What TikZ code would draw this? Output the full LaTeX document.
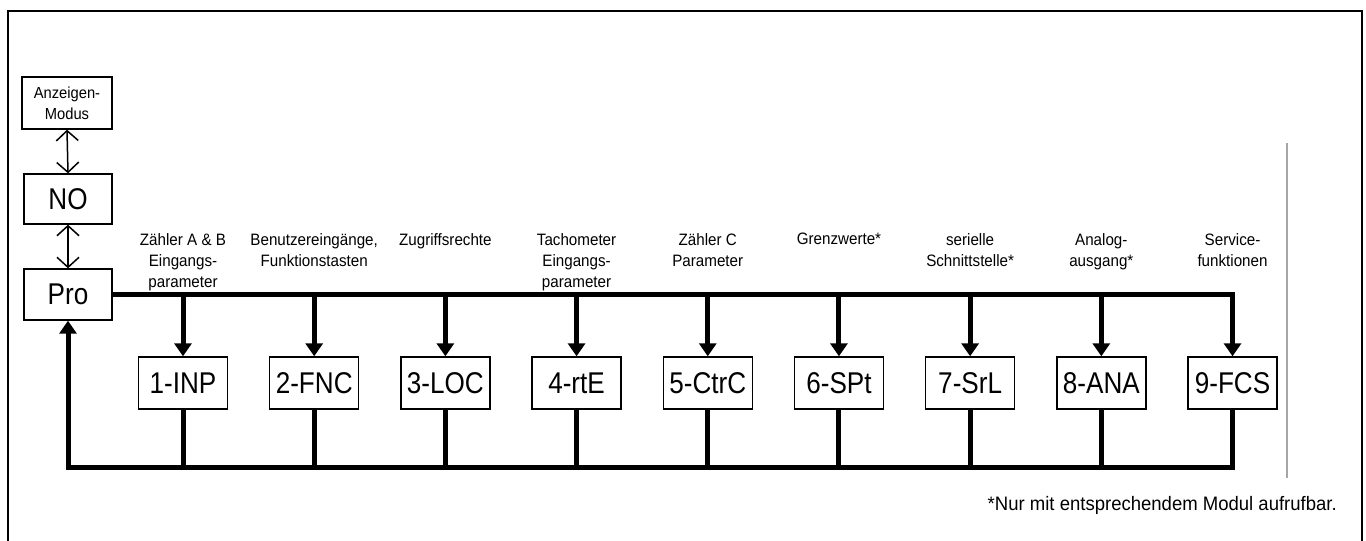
\documentclass[tikz,border=0pt]{standalone}
\usepackage{fontspec}
\setmainfont{Liberation Sans}
\newfontfamily\boxfont[FakeStretch=0.87]{Liberation Sans}
\newfontfamily\lblfont[FakeStretch=0.92]{Liberation Sans}
\newfontfamily\notefont[FakeStretch=0.95]{Liberation Sans}
\usetikzlibrary{arrows.meta}
\begin{document}
\begin{tikzpicture}[x=1pt,y=-1pt,
  box/.style={draw, line width=1.4pt, minimum width=89pt, minimum height=52pt, inner sep=0pt, font=\boxfont\fontsize{30}{34}\selectfont},
  lbl/.style={anchor=north, align=center, inner sep=0pt, font=\lblfont\fontsize{16.5}{21}\selectfont},
  bus/.style={line width=5pt},
  busarrow/.style={line width=5pt, line join=miter, -{Triangle[length=13pt,width=17pt]}},
  dbl/.style={line width=1.5pt, {Straight Barb[length=10pt,width=22pt]}-{Straight Barb[length=10pt,width=22pt]}}]
\useasboundingbox (0,0) rectangle (1366,541);
\fill[white] (0,0) rectangle (1366,541);
\draw[line width=1.5pt] (8,541) -- (8,11) -- (1362,11) -- (1362,541);
\draw[gray!70, line width=1.5pt] (1287,143) -- (1287,478);

\node[box, minimum width=90pt, font=\lblfont\fontsize{16}{21}\selectfont, align=center] (anz) at (67,103) {Anzeigen-\\Modus};
\node[box, minimum width=88pt, minimum height=50pt] (no) at (68,199) {NO};
\node[box, minimum width=88pt, minimum height=51pt] (pro) at (68,294.5) {Pro};

\foreach \i/\t in {1/1-INP,2/2-FNC,3/3-LOC,4/4-rtE,5/5-CtrC,6/6-SPt,7/7-SrL,8/8-ANA,9/9-FCS}{
  \pgfmathsetmacro{\xx}{183+131.19*(\i-1)}
  \node[box] (m\i) at (\xx,383) {\t};
}

\draw[dbl] (anz.south) -- (no.north);
\draw[dbl] (no.south) -- (pro.north);

\draw[busarrow] (pro.east) -- (pro.east -| m9.north) -- (m9.north);
\foreach \i in {1,...,8}{
  \draw[busarrow] (pro.east -| m\i.north) -- (m\i.north);
}
\coordinate (bl) at (68,467);
\foreach \i in {1,...,8}{
  \draw[bus] (m\i.south) -- (m\i.south |- bl);
}
\draw[busarrow] (m9.south) |- (bl) -- (pro.south);

\node[lbl] (l1) at (m1 |- 0,233) {Zähler A \& B\\Eingangs-\\parameter};
\node[lbl] (l2) at (m2 |- 0,233) {Benutzereingänge,\\Funktionstasten};
\node[lbl] (l3) at (m3 |- 0,233) {Zugriffsrechte};
\node[lbl] (l4) at (m4 |- 0,233) {Tachometer\\Eingangs-\\parameter};
\node[lbl] (l5) at (m5 |- 0,233) {Zähler C\\Parameter};
\node[lbl] (l6) at (m6 |- 0,233) {Grenzwerte*};
\node[lbl] (l7) at (m7 |- 0,233) {serielle\\Schnittstelle*};
\node[lbl] (l8) at (m8 |- 0,233) {Analog-\\ausgang*};
\node[lbl] (l9) at (m9 |- 0,233) {Service-\\funktionen};

\node[anchor=base east, inner sep=0pt, font=\notefont\fontsize{19.5}{23}\selectfont] (fn) at (1337,510) {*Nur mit entsprechendem Modul aufrufbar.};
\end{tikzpicture}
\end{document}
